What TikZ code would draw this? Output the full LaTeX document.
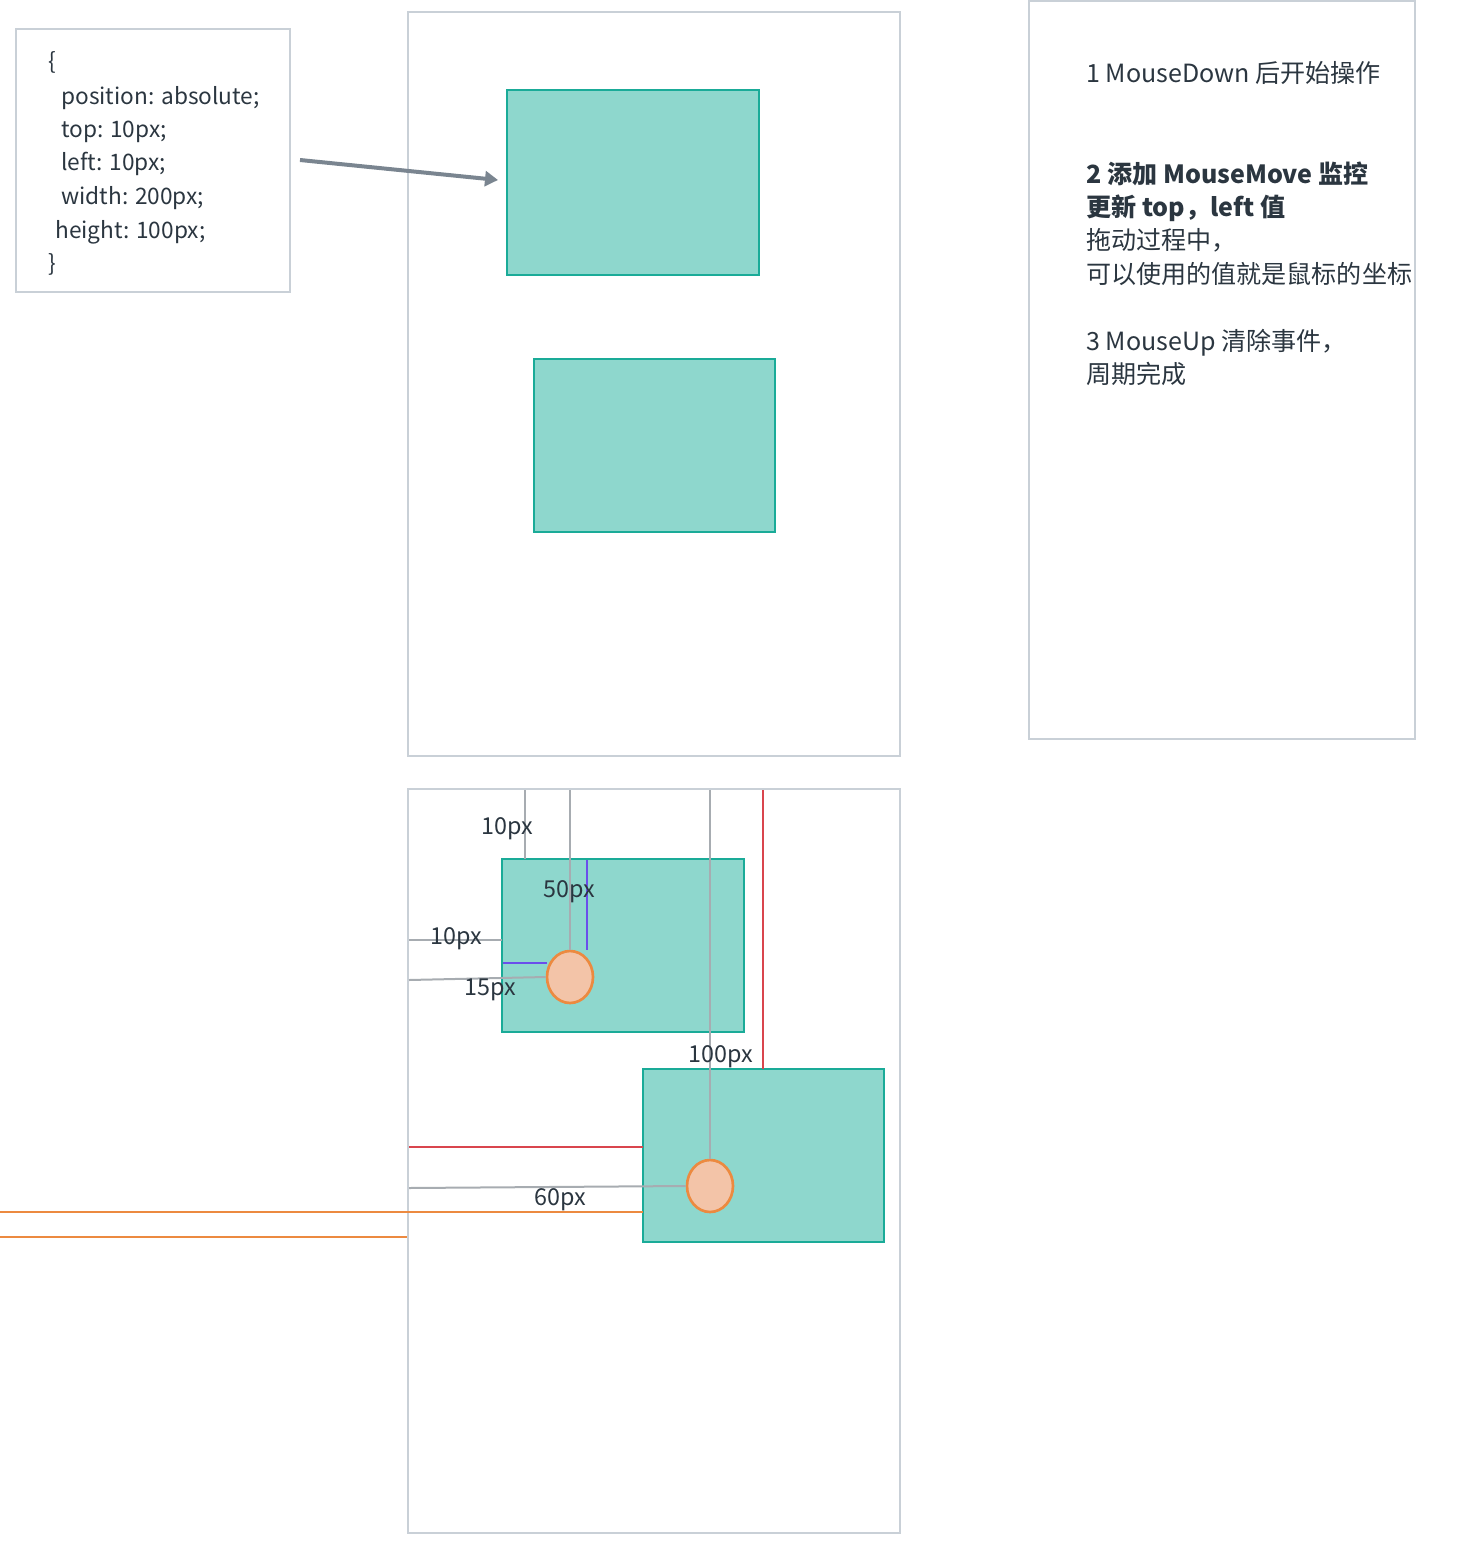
\documentclass[tikz,border=0pt]{standalone}
\usepackage{fontspec}
\setmainfont{Noto Sans CJK SC}
\usetikzlibrary{arrows.meta,shapes.geometric}
\definecolor{panel}{HTML}{C9D0D7}
\definecolor{tealfill}{HTML}{8ED7CD}
\definecolor{tealline}{HTML}{1AAB98}
\definecolor{txt}{HTML}{2B3640}
\definecolor{arrowgray}{HTML}{7A8590}
\definecolor{guide}{HTML}{A7ACB1}
\definecolor{purp}{HTML}{6A4EEB}
\definecolor{redl}{HTML}{D9454D}
\definecolor{orl}{HTML}{EC8A40}
\definecolor{orfill}{HTML}{F3C4A8}
\tikzset{
  panelbox/.style={draw=panel, line width=2pt},
  block/.style={draw=tealline, fill=tealfill, line width=2pt},
  dot/.style={draw=orl, fill=orfill, line width=2pt, ellipse},
  guideline/.style={draw=guide, line width=1.5pt},
  purpline/.style={draw=purp, line width=1.5pt},
  redline/.style={draw=redl, line width=1.5pt},
  orline/.style={draw=orl, line width=1.875pt},
  codetxt/.style={text=txt, font=\fontsize{17}{20}\selectfont, anchor=mid west, inner sep=0},
  notetxt/.style={text=txt, font=\fontsize{18.8}{22}\selectfont, anchor=mid west, inner sep=0},
  boldnote/.style={notetxt, font=\fontsize{18.8}{22}\selectfont\bfseries},
  lbl/.style={text=txt, font=\fontsize{17.5}{20}\selectfont, inner sep=0},
}
\begin{document}
\begin{tikzpicture}[x=0.75pt,y=-0.75pt]
\useasboundingbox (0,0) rectangle (1460,1560);
% code box
\draw[panelbox] (16,29) rectangle (290,292);
\node[codetxt] (c0) at (48,66) {\{};
\node[codetxt] (c1) at (61,101) {position: absolute;};
\node[codetxt] (c2) at (61,134) {top: 10px;};
\node[codetxt] (c3) at (61,167) {left: 10px;};
\node[codetxt] (c4) at (61,201) {width: 200px;};
\node[codetxt] (c5) at (55,235) {height: 100px;};
\node[codetxt] (c6) at (48,268) {\}};
\coordinate (arrS) at (300,160);
% top panel
\draw[panelbox] (408,12) rectangle (900,756);
\draw[block] (507,90) rectangle (759,275);
\coordinate (arrE) at (498,180);
\draw[block] (534,359) rectangle (775,532);
\draw[draw=arrowgray, line width=3pt, -{Triangle[length=9.75pt,width=11.25pt]}] (arrS) -- (arrE);
% right panel
\draw[panelbox] (1029,1) rectangle (1415,739);
\node[notetxt] (n1) at (1086,79) {1 MouseDown 后开始操作};
\node[boldnote] (n2) at (1086,180) {2 添加 MouseMove 监控};
\node[boldnote] (n3) at (1086,213) {更新 top，left 值};
\node[notetxt] (n4) at (1086,246) {拖动过程中，};
\node[notetxt] (n5) at (1086,280) {可以使用的值就是鼠标的坐标};
\node[notetxt] (n6) at (1086,347) {3 MouseUp 清除事件，};
\node[notetxt] (n7) at (1086,380) {周期完成};
% bottom panel
\draw[panelbox] (408,789) rectangle (900,1533);
\draw[orline] (0,1237) -- (407,1237);
\draw[block] (502,859) rectangle (744,1032);
\draw[block] (643,1069) rectangle (884,1242);
\node[dot, minimum width=34.5pt, minimum height=39pt, inner sep=0] (d1) at (570,977) {};
\node[dot, minimum width=34.5pt, minimum height=39pt, inner sep=0] (d2) at (710,1186) {};
% guides
\draw[guideline] (525,790) -- (525,859);
\draw[guideline] (570,790) -- (d1.north);
\draw[guideline] (710,790) -- (d2.north);
\draw[guideline] (409,940) -- (502,940);
\draw[guideline] (409,980) -- (d1.west);
\draw[guideline] (409,1188) -- (d2.west);
\draw[purpline] (587,860) -- (587,950);
\draw[purpline] (503,963) -- (547,963);
\draw[redline] (763,790) -- (763,1069);
\draw[redline] (409,1147) -- (643,1147);
\draw[orline] (0,1212) -- (643,1212);
% labels
\node[lbl] (l1) at (507,829) {10px};
\node[lbl] (l2) at (569,892) {50px};
\node[lbl] (l3) at (456,939) {10px};
\node[lbl] (l4) at (490,990) {15px};
\node[lbl] (l5) at (721,1057) {100px};
\node[lbl] (l6) at (560,1200) {60px};
\end{tikzpicture}
\end{document}
